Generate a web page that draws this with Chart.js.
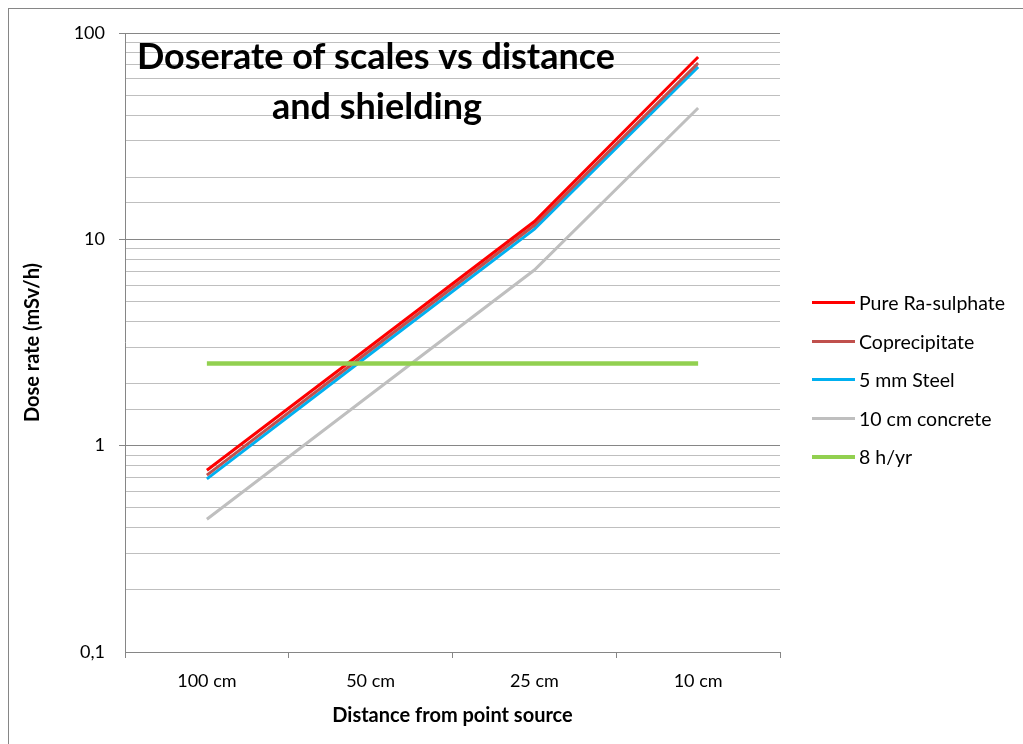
<!DOCTYPE html>
<html lang="en">
<head>
    <meta charset="UTF-8">
    <title>Doserate of scales vs distance and shielding</title>
    <script src="https://cdn.jsdelivr.net/npm/chart.js"></script>
    <style>
        html, body { margin: 0; padding: 0; background: #fff; overflow: hidden; }
        .wrap { position: relative; width: 1023px; height: 744px; }
        .frame {
            position: absolute; left: 8px; top: 8px; width: 1100px; height: 800px;
            border: 1px solid #868686;
        }
        #chart { position: absolute; left: 0; top: 0; }
        .legend {
            position: absolute; left: 812px; top: 283.5px;
            font-family: Lato, sans-serif; font-size: 19.5px; color: #000;
        }
        .legend .item { display: flex; align-items: center; height: 38.5px; }
        .legend .swatch { width: 43px; margin-right: 4px; }
    </style>
</head>
<body>
<div class="wrap">
    <div class="frame"></div>
    <canvas id="chart" width="1023" height="744"></canvas>
    <div class="legend" id="legend"></div>
</div>

<script>
    const distances = ['100 cm', '50 cm', '25 cm', '10 cm'];

    const pureRaSulphate = [0.76, 3.04, 12.2, 76.5];
    const coprecipitate = [0.72, 2.91, 11.7, 71.5];
    const steel5mm = [0.69, 2.79, 11.2, 68.5];
    const concrete10cm = [0.44, 1.77, 7.1, 43.3];
    const limit8hYr = [2.5, 2.5, 2.5, 2.5];

    const seriesNames = ['Pure Ra-sulphate', 'Coprecipitate', '5 mm Steel', '10 cm concrete', '8 h/yr'];
    const seriesColors = ['#FF0000', '#C0504D', '#00B0F0', '#BFBFBF', '#92D050'];
    const seriesWidths = [3, 3, 3, 3, 4.5];
    const seriesValues = [pureRaSulphate, coprecipitate, steel5mm, concrete10cm, limit8hYr];

    const majorTicks = [0.1, 1, 10, 100];
    const titleLines = ['Doserate of scales vs distance', 'and shielding'];

    const isMajor = v => majorTicks.some(m => Math.abs(v - m) < m * 1e-6);

    const datasets = seriesNames.map((name, i) => ({
        label: name,
        data: seriesValues[i],
        borderColor: seriesColors[i],
        backgroundColor: seriesColors[i],
        borderWidth: seriesWidths[i],
        pointRadius: 0,
        tension: 0,
        fill: false,
        order: i === 4 ? 0 : 1
    }));

    // big title sits inside the plot area, over the gridlines
    const chartTitle = {
        id: 'chartTitle',
        afterDatasetsDraw(chart) {
            const ctx = chart.ctx;
            const x = chart.chartArea.left + 251;
            ctx.save();
            ctx.fillStyle = '#000';
            ctx.font = 'bold 36px Lato, sans-serif';
            ctx.textAlign = 'center';
            ctx.textBaseline = 'alphabetic';
            ctx.fillText(titleLines[0], x, 69);
            ctx.fillText(titleLines[1], x + 1, 119);
            ctx.restore();
        }
    };

    const ctx = document.getElementById('chart').getContext('2d');
    new Chart(ctx, {
        type: 'line',
        data: { labels: distances, datasets: datasets },
        plugins: [chartTitle],
        options: {
            responsive: false,
            animation: false,
            layout: { padding: { top: 33, right: 243, bottom: 0, left: 0 } },
            plugins: {
                legend: { display: false },
                title: { display: false },
                tooltip: { enabled: false }
            },
            scales: {
                x: {
                    type: 'category',
                    offset: true,
                    grid: {
                        offset: true,
                        drawOnChartArea: false,
                        drawTicks: true,
                        tickLength: 6,
                        tickColor: '#868686'
                    },
                    border: { color: '#868686', width: 1 },
                    ticks: {
                        color: '#000',
                        padding: 12,
                        font: { family: 'Lato', size: 18 }
                    },
                    title: {
                        display: true,
                        text: 'Distance from point source',
                        color: '#000',
                        font: { family: 'Lato', size: 20, weight: 'bold' },
                        padding: { top: 0, bottom: 16 }
                    },
                    afterFit(scale) { scale.height = 744 - 652; }
                },
                y: {
                    type: 'logarithmic',
                    min: 0.1,
                    max: 100,
                    grid: {
                        color: c => (isMajor(c.tick.value) ? '#868686' : '#BFBFBF'),
                        lineWidth: c => (Math.abs(c.tick.value - 0.1) < 1e-6 ? 0 : 1),
                        tickLength: 6,
                        tickColor: c => (isMajor(c.tick.value) ? '#868686' : 'rgba(0,0,0,0)')
                    },
                    border: { color: '#868686', width: 1 },
                    ticks: {
                        color: '#000',
                        padding: 14,
                        autoSkip: false,
                        font: { family: 'Lato', size: 18 },
                        callback: v => (isMajor(v) ? String(v).replace('.', ',') : '')
                    },
                    title: {
                        display: true,
                        text: 'Dose rate (mSv/h)',
                        color: '#000',
                        font: { family: 'Lato', size: 20, weight: 'bold' },
                        padding: { top: 21, bottom: 0 }
                    },
                    afterFit(scale) { scale.width = 125; }
                }
            }
        }
    });

    // legend on the right, built from the same series arrays
    const legendEl = document.getElementById('legend');
    seriesNames.forEach((name, i) => {
        const item = document.createElement('div');
        item.className = 'item';
        const sw = document.createElement('div');
        sw.className = 'swatch';
        sw.style.borderTop = seriesWidths[i] + 'px solid ' + seriesColors[i];
        const label = document.createElement('span');
        label.textContent = name;
        item.appendChild(sw);
        item.appendChild(label);
        legendEl.appendChild(item);
    });
</script>
</body>
</html>
